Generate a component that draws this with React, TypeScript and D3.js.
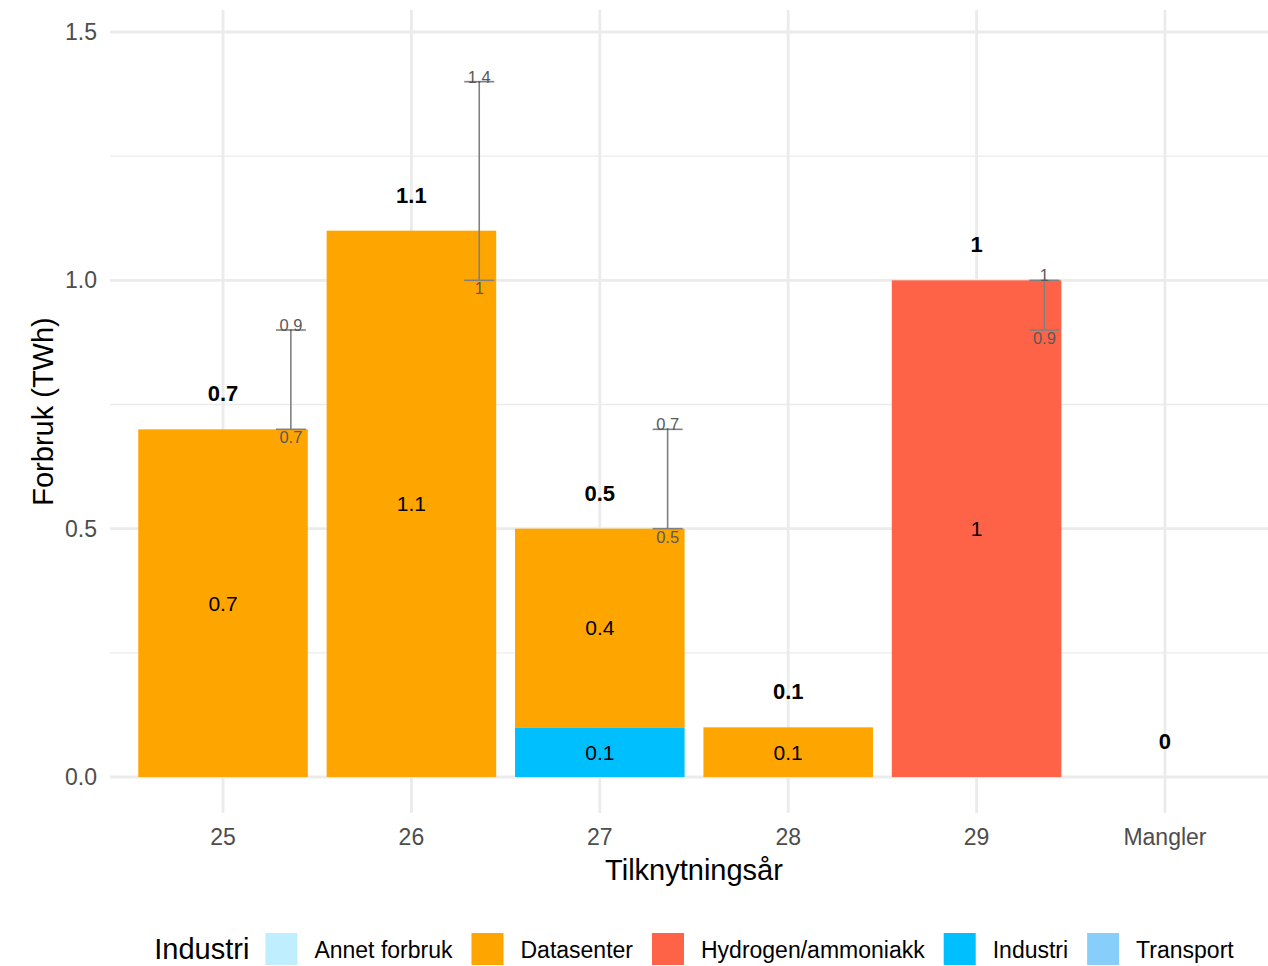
import React, { useMemo } from "react";
import * as d3 from "d3";

const categories = ["25", "26", "27", "28", "29", "Mangler"];
const industries = ["Annet forbruk", "Datasenter", "Hydrogen/ammoniakk", "Industri", "Transport"];
const industryColors = ["#BFEFFF", "#FFA500", "#FF6347", "#00BFFF", "#87CEFA"];

const annetForbruk = [0, 0, 0, 0, 0, 0];
const datasenter = [0.7, 1.1, 0.4, 0.1, 0, 0];
const hydrogen = [0, 0, 0, 0, 1.0, 0];
const industri = [0, 0, 0.1, 0, 0, 0];
const transport = [0, 0, 0, 0, 0, 0];

const errLow: (number | null)[] = [0.7, 1.0, 0.5, null, 0.9, null];
const errHigh: (number | null)[] = [0.9, 1.4, 0.7, null, 1.0, null];

const yTicks = [0, 0.5, 1.0, 1.5];
const yTickLabels = ["0.0", "0.5", "1.0", "1.5"];
const yMinorTicks = [0.25, 0.75, 1.25];

const xTitle = "Tilknytningsår";
const yTitle = "Forbruk (TWh)";
const legendTitle = "Industri";

const W = 1268;
const H = 966;
const FONT = "'Liberation Sans', Arial, Helvetica, sans-serif";

function measure(text: string, size: number, weight = "normal") {
  const c = document.createElement("canvas");
  const ctx = c.getContext("2d")!;
  ctx.font = `${weight} ${size}px 'Liberation Sans', Arial, sans-serif`;
  return ctx.measureText(text).width;
}

export default function App() {
  const panel = { left: 110, right: 1278, top: 10, bottom: 813 };

  const x = d3.scalePoint<string>().domain(categories).range([panel.left, panel.right]).padding(0.6);
  const step = x.step();
  const y = d3.scaleLinear().domain([0, 1.5]).range([777, 32]);

  const rows = categories.map((c, i) => ({
    cat: c,
    "Annet forbruk": annetForbruk[i],
    Datasenter: datasenter[i],
    "Hydrogen/ammoniakk": hydrogen[i],
    Industri: industri[i],
    Transport: transport[i],
  }));

  const stackKeys = [...industries].reverse();
  const series = d3.stack<any>().keys(stackKeys)(rows);
  const color = d3.scaleOrdinal<string, string>().domain(industries).range(industryColors);

  const totals = categories.map((_, i) => +(annetForbruk[i] + datasenter[i] + hydrogen[i] + industri[i] + transport[i]).toFixed(1));

  const barW = step * 0.9;
  const errOffset = step * 0.36;
  const whisker = 15;

  const legend = useMemo(() => {
    const keySize = 32;
    const gapKeyText = 17;
    const itemSpacing = 19;
    const titleW = measure(legendTitle, 29);
    const titleGap = 16;
    const items: { label: string; color: string; kx: number; tx: number }[] = [];
    let cx = titleW + titleGap;
    industries.forEach((lab, i) => {
      const tw = measure(lab, 23);
      items.push({ label: lab, color: industryColors[i], kx: cx, tx: cx + keySize + gapKeyText });
      cx += keySize + gapKeyText + tw + itemSpacing;
    });
    const total = cx - itemSpacing;
    const start = (panel.left + panel.right) / 2 - total / 2;
    return { start, items, keySize };
  }, []);

  return (
    <svg width={W} height={H} style={{ position: "absolute", left: 0, top: 0, background: "#fff" }} fontFamily={FONT}>
      <rect x={0} y={0} width={W} height={H} fill="#fff" />
      {/* minor gridlines */}
      {yMinorTicks.map((t) => (
        <line key={"mn" + t} x1={panel.left} x2={panel.right} y1={y(t)} y2={y(t)} stroke="#EBEBEB" strokeWidth={1.4} />
      ))}
      {/* major gridlines */}
      {yTicks.map((t) => (
        <line key={"mj" + t} x1={panel.left} x2={panel.right} y1={y(t)} y2={y(t)} stroke="#EBEBEB" strokeWidth={2.8} />
      ))}
      {categories.map((c) => (
        <line key={"vg" + c} x1={x(c)!} x2={x(c)!} y1={panel.top} y2={panel.bottom} stroke="#EBEBEB" strokeWidth={2.8} />
      ))}

      {/* bars */}
      {series.map((s) =>
        s.map((d, i) => {
          const h = y(d[0]) - y(d[1]);
          if (h <= 0) return null;
          return (
            <rect
              key={s.key + i}
              x={x(categories[i])! - barW / 2}
              y={y(d[1])}
              width={barW}
              height={h}
              fill={color(s.key)}
            />
          );
        })
      )}

      {/* segment labels */}
      {series.map((s) =>
        s.map((d, i) => {
          const v = +(d[1] - d[0]).toFixed(2);
          if (v <= 0) return null;
          return (
            <text
              key={"sl" + s.key + i}
              x={x(categories[i])!}
              y={y((d[0] + d[1]) / 2)}
              dy="0.35em"
              textAnchor="middle"
              fontSize={21}
              fill="#000"
            >
              {String(v)}
            </text>
          );
        })
      )}

      {/* total labels */}
      {categories.map((c, i) => (
        <text
          key={"tl" + c}
          x={x(c)!}
          y={y(totals[i] + 0.072)}
          dy="0.35em"
          textAnchor="middle"
          fontSize={22}
          fontWeight="bold"
          fill="#000"
        >
          {String(totals[i])}
        </text>
      ))}

      {/* error bars */}
      {categories.map((c, i) => {
        const lo = errLow[i];
        const hi = errHigh[i];
        if (lo == null || hi == null) return null;
        const ex = x(c)! + errOffset;
        return (
          <g key={"eb" + c}>
            <line x1={ex} x2={ex} y1={y(lo)} y2={y(hi)} stroke="#808080" strokeWidth={1.6} />
            <line x1={ex - whisker} x2={ex + whisker} y1={y(lo)} y2={y(lo)} stroke="#808080" strokeWidth={1.6} />
            <line x1={ex - whisker} x2={ex + whisker} y1={y(hi)} y2={y(hi)} stroke="#808080" strokeWidth={1.6} />
            <text x={ex} y={y(hi) + 1} textAnchor="middle" fontSize={16.5} fill="#595959">
              {String(hi)}
            </text>
            <text x={ex} y={y(lo) + 14} textAnchor="middle" fontSize={16.5} fill="#595959">
              {String(lo)}
            </text>
          </g>
        );
      })}

      {/* y axis tick labels */}
      {yTicks.map((t, i) => (
        <text key={"yt" + t} x={97} y={y(t)} dy="0.35em" textAnchor="end" fontSize={23} fill="#4D4D4D">
          {yTickLabels[i]}
        </text>
      ))}
      {/* x axis tick labels */}
      {categories.map((c) => (
        <text key={"xt" + c} x={x(c)!} y={845} textAnchor="middle" fontSize={23} fill="#4D4D4D">
          {c}
        </text>
      ))}

      {/* axis titles */}
      <text x={(panel.left + panel.right) / 2} y={880} textAnchor="middle" fontSize={29} fill="#000">
        {xTitle}
      </text>
      <text
        transform={`translate(53, ${(panel.top + panel.bottom) / 2}) rotate(-90)`}
        textAnchor="middle"
        fontSize={29}
        fill="#000"
      >
        {yTitle}
      </text>

      {/* legend */}
      <g transform={`translate(${legend.start}, 0)`}>
        <text x={0} y={949} dy="0.35em" fontSize={29} fill="#000">
          {legendTitle}
        </text>
        {legend.items.map((it) => (
          <g key={"lg" + it.label}>
            <rect x={it.kx} y={933} width={legend.keySize} height={legend.keySize} fill={it.color} />
            <text x={it.tx} y={950} dy="0.35em" fontSize={23} fill="#000">
              {it.label}
            </text>
          </g>
        ))}
      </g>
    </svg>
  );
}
